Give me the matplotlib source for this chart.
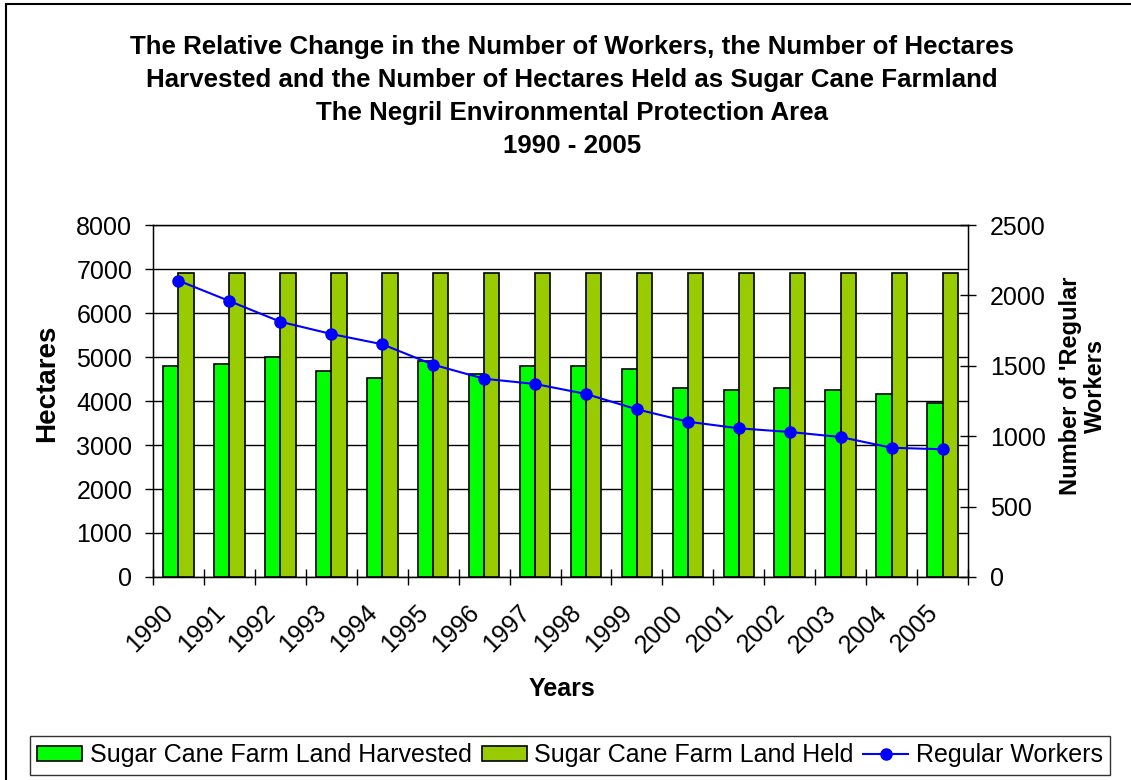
import matplotlib.pyplot as plt
from matplotlib.patches import Rectangle
import numpy as np

plt.rcParams['font.family'] = ['Liberation Sans', 'DejaVu Sans']

# --- Data ---
years = ['1990', '1991', '1992', '1993', '1994', '1995', '1996', '1997',
         '1998', '1999', '2000', '2001', '2002', '2003', '2004', '2005']
harvested = [4800, 4840, 5000, 4680, 4530, 4920, 4610, 4800,
             4800, 4730, 4300, 4250, 4300, 4250, 4170, 3950]
held = [6920] * 16
workers = [2105, 1960, 1813, 1726, 1653, 1508, 1408, 1371,
           1300, 1191, 1103, 1056, 1030, 994, 918, 907]

# --- Figure ---
W, H = 1131, 780
fig = plt.figure(figsize=(W / 100, H / 100), dpi=100)
ax = fig.add_axes([153 / W, 1 - 577 / H, 815 / W, 352 / H])

x = np.arange(len(years))
w = 0.3
ax.bar(x - w / 2, harvested, w, color='#00FF00', edgecolor='black', linewidth=1.2,
       label='Sugar Cane Farm Land Harvested', zorder=3)
ax.bar(x + w / 2, held, w, color='#99CC00', edgecolor='black', linewidth=1.2,
       label='Sugar Cane Farm Land Held', zorder=3)

ax.set_xlim(-0.5, len(years) - 0.5)
ax.set_ylim(0, 8000)
ax.set_yticks(range(0, 8001, 1000))
ax.yaxis.grid(True, color='black', linewidth=1)
ax.set_axisbelow(True)
ax.tick_params(axis='y', labelsize=18, length=6, width=1, direction='out', pad=9)

# x ticks at group boundaries, labels at centres
ax.set_xticks(np.arange(-0.5, len(years), 1))
ax.set_xticklabels([])
ax.tick_params(axis='x', which='major', length=12, width=1, direction='inout')
ax.set_xticks(x, minor=True)
ax.set_xticklabels(years, minor=True, rotation=45, ha='right', fontsize=18)
ax.tick_params(axis='x', which='minor', length=0, pad=17)

for s in ax.spines.values():
    s.set_linewidth(1)

# --- Workers on second axis ---
ax2 = ax.twinx()
ax2.plot(x, workers, color='#0000FF', marker='o', markersize=8, linewidth=1.5,
         label='Regular Workers', zorder=4)
ax2.set_ylim(0, 2500)
ax2.set_yticks(range(0, 2501, 500))
ax2.tick_params(axis='y', labelsize=18, length=12, width=1, direction='inout', pad=10)

# --- Axis titles ---
fig.text(47 / W, 1 - 383 / H, 'Hectares', rotation=90, ha='center', va='center',
         fontsize=20, fontweight='bold')
fig.text(1083 / W, 1 - 386 / H, "Number of 'Regular\nWorkers", rotation=90,
         ha='center', va='center', fontsize=17, fontweight='bold', linespacing=1.15)
fig.text(562 / W, 1 - 689 / H, 'Years', ha='center', va='center',
         fontsize=18, fontweight='bold')

# --- Title ---
fig.text(572 / W, 1 - 35 / H,
         'The Relative Change in the Number of Workers, the Number of Hectares\n'
         'Harvested and the Number of Hectares Held as Sugar Cane Farmland\n'
         'The Negril Environmental Protection Area\n'
         '1990 - 2005',
         ha='center', va='top', fontsize=18.6, fontweight='bold', linespacing=1.47)

# --- Legend ---
h1, l1 = ax.get_legend_handles_labels()
h2, l2 = ax2.get_legend_handles_labels()
leg = fig.legend(h1 + h2, l1 + l2, loc='center', bbox_to_anchor=(570 / W, 1 - 755 / H),
                 ncol=3, fontsize=18, frameon=True, fancybox=False,
                 edgecolor='black', handlelength=1.8, handleheight=0.56,
                 columnspacing=0.4, handletextpad=0.3, borderpad=0.3)
leg.get_frame().set_linewidth(1)

# outer chart border
fig.patches.append(Rectangle((6 / W, -0.05), 1.2, 1 - 4 / H + 0.05,
                             transform=fig.transFigure, fill=False,
                             edgecolor='black', linewidth=1.5))

fig.savefig('out.png', dpi=100)
